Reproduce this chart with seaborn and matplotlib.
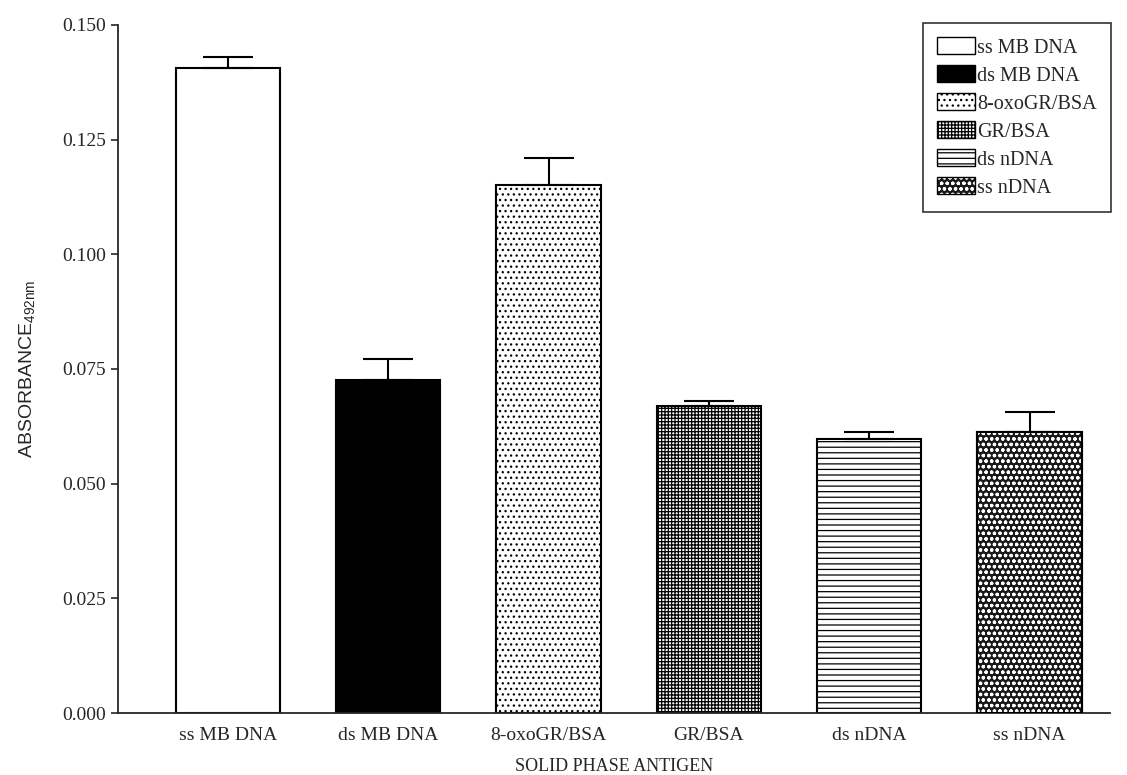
import matplotlib
matplotlib.use("Agg")
import matplotlib.pyplot as plt
import seaborn as sns
import pandas as pd
from matplotlib.patches import Patch

# дані з рисунка
antigens = ["ss MB DNA", "ds MB DNA", "8-oxoGR/BSA", "GR/BSA", "ds nDNA", "ss nDNA"]
absorbance = [0.1405, 0.0725, 0.115, 0.067, 0.0598, 0.0613]
errors = [0.0025, 0.0047, 0.006, 0.001, 0.0015, 0.0042]

faces = ["white", "black", "white", "white", "white", "#1a1a1a"]
hatches = [None, None, "...", "+++++", "---", None]

sns.set_theme(style="ticks")
plt.rcParams["font.family"] = ["Liberation Serif", "DejaVu Serif"]
plt.rcParams["mathtext.fontset"] = "custom"
plt.rcParams["mathtext.rm"] = "Liberation Sans"
plt.rcParams["mathtext.it"] = "Liberation Sans"
plt.rcParams["hatch.linewidth"] = 0.9
plt.rcParams["hatch.color"] = "black"

df = pd.DataFrame({"antigen": antigens, "absorbance": absorbance})

fig = plt.figure(figsize=(11.27, 7.75), dpi=100)
ax = fig.add_axes([0.1047, 0.08, 0.88, 0.888])

sns.barplot(data=df, x="antigen", y="absorbance", ax=ax, width=0.65,
            color="white", edgecolor="black", linewidth=1.5, errorbar=None)

for p, fc, h in zip(ax.patches, faces, hatches):
    p.set_facecolor(fc)
    if h:
        p.set_hatch(h)

# ss nDNA: темний фон з білими крапками
last = ax.patches[5]
ax.bar(last.get_x() + last.get_width() / 2, absorbance[5], width=last.get_width(),
       color="none", edgecolor="white", hatch="ooo", linewidth=0, zorder=2.5)
ax.bar(last.get_x() + last.get_width() / 2, absorbance[5], width=last.get_width(),
       color="none", edgecolor="black", linewidth=1.5, zorder=2.6)

xs = [p.get_x() + p.get_width() / 2 for p in ax.patches[:6]]
ax.errorbar(xs, absorbance, yerr=[[0] * 6, errors], fmt="none", ecolor="black",
            elinewidth=1.5, capsize=18, capthick=1.5, zorder=3)

ax.set_xlim(-0.685, 5.5)
ax.set_ylim(0, 0.150)
ax.set_yticks([0, 0.025, 0.05, 0.075, 0.1, 0.125, 0.15])
ax.set_yticklabels(["0.000", "0.025", "0.050", "0.075", "0.100", "0.125", "0.150"])
ax.tick_params(axis="y", labelsize=14, length=5, width=1.2, direction="out")
ax.tick_params(axis="x", labelsize=14, length=0, pad=10)
sns.despine(ax=ax)
ax.spines["left"].set_linewidth(1.3)
ax.spines["bottom"].set_linewidth(1.3)

ax.set_xlabel("SOLID PHASE ANTIGEN", fontsize=13, labelpad=10)
ax.set_ylabel(r"ABSORBANCE$_{\mathrm{492nm}}$", fontsize=14,
              family=["Liberation Sans", "DejaVu Sans"], labelpad=18)

handles = [Patch(facecolor=fc, edgecolor="black", hatch=h, linewidth=1.0)
           for fc, h in zip(faces[:5], hatches[:5])]
handles.append((Patch(facecolor=faces[5], edgecolor="white", hatch="ooo", linewidth=0),
                Patch(fill=False, edgecolor="black", linewidth=1.0)))
leg = ax.legend(handles, antigens, loc="upper right", bbox_to_anchor=(1.005, 1.008),
                fontsize=14.5, frameon=True, fancybox=False, edgecolor="black",
                handlelength=1.9, handleheight=0.9, handletextpad=0.1,
                labelspacing=0.38, borderpad=0.7, borderaxespad=0.2)
leg.get_frame().set_linewidth(1.2)

fig.savefig("out.png", dpi=100)
plt.close(fig)
